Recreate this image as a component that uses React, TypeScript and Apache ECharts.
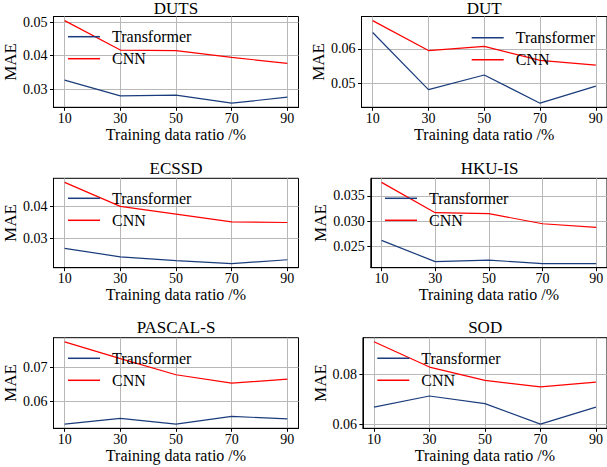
import React, { useEffect, useRef } from "react";
import * as echarts from "echarts";

// ---------- data ----------
const ratios = [10, 30, 50, 70, 90];
const titles = ["DUTS", "DUT", "ECSSD", "HKU-IS", "PASCAL-S", "SOD"];
const seriesNames = ["Transformer", "CNN"];

const dutsTransformer = [0.0327, 0.028, 0.0282, 0.0258, 0.0276];
const dutsCNN = [0.0505, 0.0417, 0.0415, 0.0395, 0.0377];
const dutTransformer = [0.0647, 0.0483, 0.0525, 0.0444, 0.0493];
const dutCNN = [0.0681, 0.0595, 0.0607, 0.0567, 0.0553];
const ecssdTransformer = [0.0269, 0.0243, 0.0231, 0.0222, 0.0234];
const ecssdCNN = [0.0473, 0.0399, 0.0375, 0.0351, 0.0349];
const hkuTransformer = [0.0262, 0.022, 0.0223, 0.0216, 0.0216];
const hkuCNN = [0.0377, 0.0317, 0.0315, 0.0295, 0.0288];
const pascalTransformer = [0.0532, 0.0549, 0.0532, 0.0555, 0.0548];
const pascalCNN = [0.0777, 0.0727, 0.0679, 0.0654, 0.0666];
const sodTransformer = [0.0669, 0.0714, 0.0683, 0.06, 0.0669];
const sodCNN = [0.0933, 0.0831, 0.0777, 0.0751, 0.077];

const dutsTicks = ["0.03", "0.04", "0.05"];
const dutTicks = ["0.05", "0.06"];
const ecssdTicks = ["0.03", "0.04"];
const hkuTicks = ["0.025", "0.030", "0.035"];
const pascalTicks = ["0.06", "0.07"];
const sodTicks = ["0.06", "0.08"];

const transformerData = [dutsTransformer, dutTransformer, ecssdTransformer, hkuTransformer, pascalTransformer, sodTransformer];
const cnnData = [dutsCNN, dutCNN, ecssdCNN, hkuCNN, pascalCNN, sodCNN];
const yTickLabels = [dutsTicks, dutTicks, ecssdTicks, hkuTicks, pascalTicks, sodTicks];

// ---------- layout / style ----------
const layout = [
  { left: 53.5, top: 16.5, width: 245, height: 90.8, titleTop: 0, legendLeft: 68, legendTop: 28.7, nameGap: 31.5 },
  { left: 361.5, top: 16.5, width: 245.5, height: 90.8, titleTop: 0, legendLeft: 471.7, legendTop: 29.7, nameGap: 30.5 },
  { left: 53.5, top: 178.3, width: 245, height: 89.4, titleTop: 160, legendLeft: 68, legendTop: 190.3, nameGap: 31.5 },
  { left: 370.8, top: 178.3, width: 237.5, height: 89.4, titleTop: 160, legendLeft: 385, legendTop: 190.3, nameGap: 38 },
  { left: 53.5, top: 337.7, width: 245, height: 90.6, titleTop: 319, legendLeft: 68, legendTop: 350.3, nameGap: 31.5 },
  { left: 362.9, top: 337.7, width: 244.5, height: 90.6, titleTop: 319, legendLeft: 377.3, legendTop: 350.3, nameGap: 31 },
];

const FONT = "'Liberation Serif', 'DejaVu Serif', serif";
const BLUE = "#1a3c7c";
const RED = "#ff0000";

function padRange(values: number[]): [number, number] {
  const mn = Math.min(...values);
  const mx = Math.max(...values);
  const pad = (mx - mn) * 0.05;
  return [mn - pad, mx + pad];
}

export default function App() {
  const ref = useRef<HTMLDivElement>(null);

  useEffect(() => {
    if (!ref.current) return;
    const chart = echarts.init(ref.current, undefined, { renderer: "svg" });
    const [xMin, xMax] = padRange(ratios);

    const grid = layout.map((l) => ({
      left: l.left,
      top: l.top,
      width: l.width,
      height: l.height,
      show: true,
      borderColor: "#000",
      borderWidth: 1,
      backgroundColor: "transparent",
    }));

    const xAxis = layout.map((l, i) => ({
      gridIndex: i,
      type: "value",
      min: xMin,
      max: xMax,
      name: "Training data ratio /%",
      nameLocation: "middle",
      nameGap: 17,
      nameTextStyle: { fontFamily: FONT, fontSize: 16, color: "#000" },
      axisLine: { show: true, onZero: false, lineStyle: { color: "#000", width: 1 } },
      axisTick: { show: true, length: 3.5, customValues: ratios, lineStyle: { color: "#000" } },
      axisLabel: { customValues: ratios, fontFamily: FONT, fontSize: 14, color: "#000", margin: 4 },
      splitLine: { show: true, lineStyle: { color: "#b8b8b8", width: 1 } },
    }));

    const yAxis = layout.map((l, i) => {
      const labels = yTickLabels[i];
      const values = labels.map((s) => parseFloat(s));
      const [yMin, yMax] = padRange([...transformerData[i], ...cnnData[i]]);
      return {
        gridIndex: i,
        type: "value",
        min: yMin,
        max: yMax,
        name: "MAE",
        nameLocation: "middle",
        nameGap: l.nameGap,
        nameTextStyle: { fontFamily: FONT, fontSize: 17, color: "#000" },
        axisLine: { show: true, onZero: false, lineStyle: { color: "#000", width: 1 } },
        axisTick: { show: true, length: 3.5, customValues: values, lineStyle: { color: "#000" } },
        axisLabel: {
          customValues: values,
          fontFamily: FONT,
          fontSize: 14,
          color: "#000",
          margin: 6,
          formatter: (v: number) => {
            const k = values.findIndex((t) => Math.abs(t - v) < 1e-9);
            return k >= 0 ? labels[k] : "";
          },
        },
        splitLine: { show: true, lineStyle: { color: "#b8b8b8", width: 1 } },
      };
    });

    const series: any[] = [];
    layout.forEach((_, i) => {
      series.push({
        type: "line",
        name: seriesNames[0],
        xAxisIndex: i,
        yAxisIndex: i,
        data: ratios.map((x, k) => [x, transformerData[i][k]]),
        symbol: "none",
        showSymbol: false,
        lineStyle: { color: BLUE, width: 1.2 },
        itemStyle: { color: BLUE },
        z: 3,
      });
      series.push({
        type: "line",
        name: seriesNames[1],
        xAxisIndex: i,
        yAxisIndex: i,
        data: ratios.map((x, k) => [x, cnnData[i][k]]),
        symbol: "none",
        showSymbol: false,
        lineStyle: { color: RED, width: 1.2 },
        itemStyle: { color: RED },
        z: 3,
      });
    });

    const legend = layout.map((l) => ({
      left: l.legendLeft,
      top: l.legendTop,
      orient: "vertical",
      padding: 0,
      itemGap: 6,
      itemWidth: 32,
      itemHeight: 1.5,
      icon: "rect",
      selectedMode: false,
      data: seriesNames,
      textStyle: { fontFamily: FONT, fontSize: 16, color: "#000", padding: [0, 0, 0, 7] },
    }));

    const title = layout.map((l, i) => ({
      text: titles[i],
      left: l.left + l.width / 2,
      top: l.titleTop,
      textAlign: "center",
      padding: 0,
      textStyle: { fontFamily: FONT, fontSize: 17, fontWeight: "normal", color: "#000" },
    }));

    chart.setOption({
      animation: false,
      backgroundColor: "#fff",
      title,
      legend,
      grid,
      xAxis,
      yAxis,
      series,
    });

    return () => chart.dispose();
  }, []);

  return (
    <div
      ref={ref}
      style={{ position: "fixed", left: 0, top: 0, width: 607, height: 467 }}
    />
  );
}
